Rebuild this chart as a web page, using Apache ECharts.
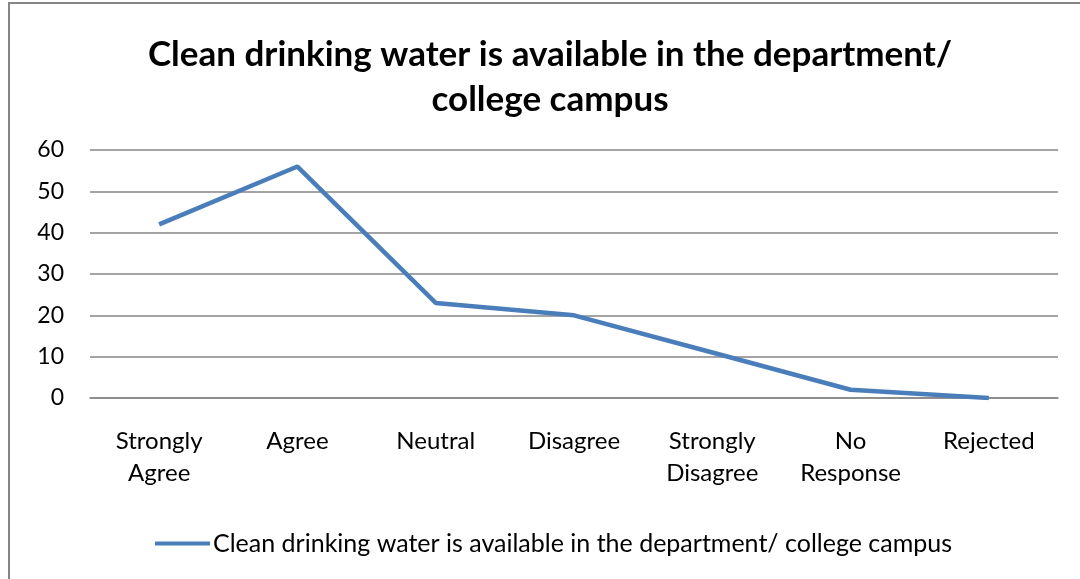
<!DOCTYPE html>
<html>
<head>
<meta charset="utf-8">
<script src="https://cdn.jsdelivr.net/npm/echarts@6/dist/echarts.min.js"></script>
<style>
    html, body { margin: 0; padding: 0; background: #fff; }
    #chart { width: 1080px; height: 579px; }
</style>
</head>
<body>
<div id="chart"></div>
<script>
var categories = ['Strongly\nAgree', 'Agree', 'Neutral', 'Disagree', 'Strongly\nDisagree', 'No\nResponse', 'Rejected'];
var values = [42, 56, 23, 20, 11, 2, 0];
var seriesName = 'Clean drinking water is available in the department/ college campus';
var titleText = 'Clean drinking water is available in the department/\ncollege campus';

var myChart = echarts.init(document.getElementById('chart'));
var fontFamily = 'Lato, "Open Sans", sans-serif';

var option = {
    backgroundColor: '#fff',
    animation: false,
    textStyle: { fontFamily: fontFamily },
    graphic: [{
        type: 'rect',
        shape: { x: 9, y: 3, width: 1100, height: 620 },
        style: { fill: 'none', stroke: '#868686', lineWidth: 2 },
        silent: true
    }],
    title: {
        text: titleText,
        left: 545,
        top: 27,
        textAlign: 'center',
        textStyle: {
            fontFamily: fontFamily,
            fontWeight: 'bold',
            fontSize: 35,
            lineHeight: 45,
            color: '#000'
        }
    },
    legend: {
        data: [seriesName],
        left: 150,
        top: 526,
        itemWidth: 55,
        itemHeight: 4,
        itemGap: 5,
        icon: 'rect',
        textStyle: { fontSize: 25, color: '#000', fontFamily: fontFamily, padding: [0, 0, 0, -2] }
    },
    grid: {
        left: 90,
        right: 22,
        top: 150,
        bottom: 181
    },
    xAxis: {
        type: 'category',
        data: categories,
        boundaryGap: true,
        axisTick: { show: false },
        axisLine: { show: true, lineStyle: { color: '#868686', width: 1.5 } },
        axisLabel: {
            color: '#000',
            fontSize: 24,
            lineHeight: 32,
            margin: 27,
            interval: 0,
            fontFamily: fontFamily
        }
    },
    yAxis: {
        type: 'value',
        min: 0,
        max: 60,
        interval: 10,
        axisLine: { show: false },
        axisTick: { show: false },
        splitLine: { show: true, lineStyle: { color: '#868686', width: 1.5 } },
        axisLabel: {
            color: '#000',
            fontSize: 23,
            margin: 26,
            fontFamily: fontFamily
        }
    },
    series: [{
        name: seriesName,
        type: 'line',
        data: values,
        symbol: 'none',
        lineStyle: { color: '#4A7EBB', width: 4.5 },
        itemStyle: { color: '#4A7EBB' }
    }]
};
myChart.setOption(option, true);
</script>
</body>
</html>
